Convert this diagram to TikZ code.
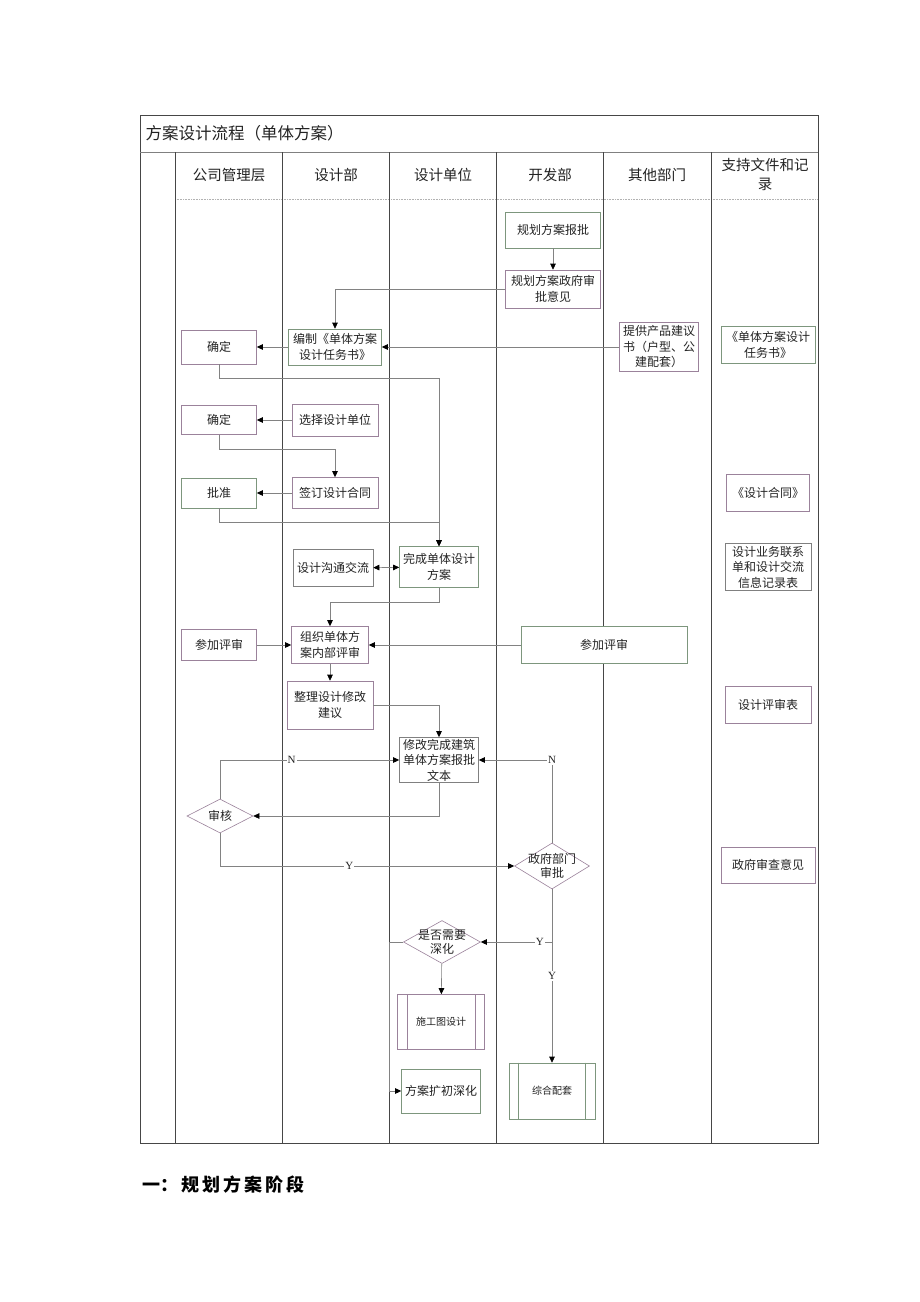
\documentclass[tikz,border=0pt]{standalone}
\usepackage{fontspec}
\setmainfont{Noto Sans CJK SC}
\newfontfamily\lat{Liberation Serif}
\usetikzlibrary{arrows.meta,shapes.geometric}
\definecolor{lg}{RGB}{125,150,125}
\definecolor{lp}{RGB}{155,130,155}
\definecolor{lc}{RGB}{130,130,130}
\definecolor{gridc}{RGB}{70,70,70}
\definecolor{tx}{RGB}{35,35,35}
\begin{document}
\begin{tikzpicture}[x=1pt,y=-1pt,
  bx/.style={draw=#1, fill=white, line width=0.6pt, align=center, inner sep=0pt, font=\fontsize{12}{15.5}\selectfont, text=tx},
  bx/.default=lp,
  conn/.style={draw=lc, line width=0.6pt, -{Triangle[length=6pt,width=5.5pt,color=black]}},
  dconn/.style={draw=lc, line width=0.6pt, {Triangle[length=6pt,width=5.5pt,color=black]}-{Triangle[length=6pt,width=5.5pt,color=black]}},
  lbl/.style={fill=white, inner sep=1pt, font=\lat\fontsize{11}{12}\selectfont, text=tx},
  dia/.style={diamond, draw=#1, fill=white, line width=0.6pt, inner sep=0pt},
  dia/.default=lp,
  hdr/.style={font=\fontsize{14.5}{19}\selectfont, text=tx, align=center}
]
\useasboundingbox (0,0) rectangle (920,1302);
\fill[white] (0,0) rectangle (920,1302);

% ---- table frame ----
\draw[gridc, line width=0.8pt] (140,115) rectangle (818,1143);
\draw[gray, line width=0.9pt] (140,152) -- (818,152);
\draw[gray!60, line width=0.6pt, densely dotted] (175,199) -- (818,199);
\foreach \x in {175,282,389,496,603,711}
  \draw[gridc, line width=0.7pt] (\x,152) -- (\x,1143);

\node[anchor=west, font=\fontsize{16.5}{20}\selectfont, text=tx] (title) at (142,133) {方案设计流程（单体方案）};
\node[hdr] (h1) at (229,175) {公司管理层};
\node[hdr] (h2) at (336,175) {设计部};
\node[hdr] (h3) at (443,175) {设计单位};
\node[hdr] (h4) at (550,175) {开发部};
\node[hdr] (h5) at (657,175) {其他部门};
\node[hdr] (h6) at (765,174) {支持文件和记\\录};

% ---- nodes ----
\node[bx=lg, minimum width=95, minimum height=36] (n1) at (553,230) {规划方案报批};
\node[bx, minimum width=95, minimum height=38] (n2) at (553,289) {规划方案政府审\\批意见};
\node[bx=lg, minimum width=93, minimum height=36] (n3) at (335,347) {编制《单体方案\\设计任务书》};
\node[bx, minimum width=75, minimum height=34] (n4) at (219,347) {确定};
\node[bx, minimum width=79, minimum height=49] (n5) at (659,347) {提供产品建议\\书（户型、公\\建配套）};
\node[bx=lg, minimum width=94, minimum height=37] (n6) at (768,345) {《单体方案设计\\任务书》};
\node[bx, minimum width=75, minimum height=29] (n7) at (219,420) {确定};
\node[bx, minimum width=86, minimum height=32] (n8) at (335,420) {选择设计单位};
\node[bx, minimum width=86, minimum height=31] (n9) at (335,493) {签订设计合同};
\node[bx=lg, minimum width=75, minimum height=30] (n10) at (219,493) {批准};
\node[bx=lg, minimum width=79, minimum height=41] (n11) at (439,567) {完成单体设计\\方案};
\node[bx=gray, minimum width=80, minimum height=37] (n12) at (333,568) {设计沟通交流};
\node[bx, minimum width=77, minimum height=37] (n13) at (330,645) {组织单体方\\案内部评审};
\node[bx, minimum width=75, minimum height=31] (n14) at (219,645) {参加评审};
\node[bx=lg, minimum width=166, minimum height=37] (n15) at (604,645) {参加评审};
\node[bx, minimum width=86, minimum height=48] (n16) at (330,705) {整理设计修改\\建议};
\node[bx=gray, minimum width=79, minimum height=45] (n17) at (439,760) {修改完成建筑\\单体方案报批\\文本};
\node[dia, minimum width=66, minimum height=34, label={[font=\fontsize{12}{14}\selectfont, text=tx]center:审核}] (n18) at (220,816) {};
\node[dia, minimum width=75, minimum height=46, label={[font=\fontsize{12}{14.5}\selectfont, text=tx, align=center]center:政府部门\\审批}] (n19) at (552,866) {};
\node[bx, minimum width=94, minimum height=36] (n20) at (768,865) {政府审查意见};
\node[dia, minimum width=77, minimum height=43, label={[font=\fontsize{12}{14.5}\selectfont, text=tx, align=center]center:是否需要\\深化}] (n21) at (442,942) {};
\node[bx, minimum width=87, minimum height=55, font=\fontsize{10}{12}\selectfont] (n22) at (441,1022) {施工图设计};
\node[bx=lg, minimum width=86, minimum height=56, font=\fontsize{10}{12}\selectfont] (n23) at (552,1091) {综合配套};
\node[bx=lg, minimum width=79, minimum height=44] (n24) at (441,1091) {方案扩初深化};
\node[bx, minimum width=83, minimum height=37] (n25) at (768,493) {《设计合同》};
\node[bx=gray, minimum width=86, minimum height=47] (n26) at (768,567) {设计业务联系\\单和设计交流\\信息记录表};
\node[bx, minimum width=86, minimum height=37] (n27) at (768,705) {设计评审表};

% predefined-process inner lines
\draw[lp, line width=0.6pt] ([xshift=10pt]n22.north west) -- ([xshift=10pt]n22.south west);
\draw[lp, line width=0.6pt] ([xshift=-10pt]n22.north east) -- ([xshift=-10pt]n22.south east);
\draw[lg, line width=0.6pt] ([xshift=10pt]n23.north west) -- ([xshift=10pt]n23.south west);
\draw[lg, line width=0.6pt] ([xshift=-10pt]n23.north east) -- ([xshift=-10pt]n23.south east);

% ---- connectors ----
\draw[conn] (n1) -- (n2);
\draw[conn] (n2.west) -| (n3.north);
\draw[conn] (n3) -- (n4);
\draw[conn] (n5) -- (n3);
\draw[conn] (n4.south) -- ++(0,14) -| (n11.north);
\draw[conn] (n8) -- (n7);
\draw[conn] (n7.south) -- ++(0,14) -| (n9.north);
\draw[conn] (n9) -- (n10);
\draw[conn] (n10.south) -- ++(0,14) -| (n11.north);
\draw[dconn] (n12) -- (n11);
\draw[conn] (n11.south) -- ++(0,14) -| (n13.north);
\draw[conn] (n14) -- (n13);
\draw[conn] (n15) -- (n13);
\draw[conn] (n13) -- (n16);
\draw[conn] (n16.east) -| (n17.north);
\draw[conn] (n17.south) |- (n18.east);
\draw[conn] (n18.north) |- node[lbl, pos=0.7] {N} (n17.west);
\draw[conn] (n18.south) |- node[lbl, pos=0.72] {Y} (n19.west);
\draw[conn] (n19.north) |- node[lbl, pos=0.5] {N} (n17.east);
\draw[conn] (n19.south) |- node[lbl, pos=0.585] {Y} (n21.east);
\draw[conn] (n19.south) -- node[lbl] {Y} (n23.north);
\draw[conn] (n21) -- (n22);
\coordinate (c1) at (389,942);
\draw[conn] (n21.west) -- (c1) |- (n24.west);

% ---- heading below ----
\node[anchor=west, font=\fontsize{18}{22}\selectfont\bfseries, text=black] (sec) at (139,1185)
  {一：\hspace{3pt}规\hspace{3pt}划\hspace{3pt}方\hspace{3pt}案\hspace{3pt}阶\hspace{3pt}段};
\end{tikzpicture}
\end{document}
